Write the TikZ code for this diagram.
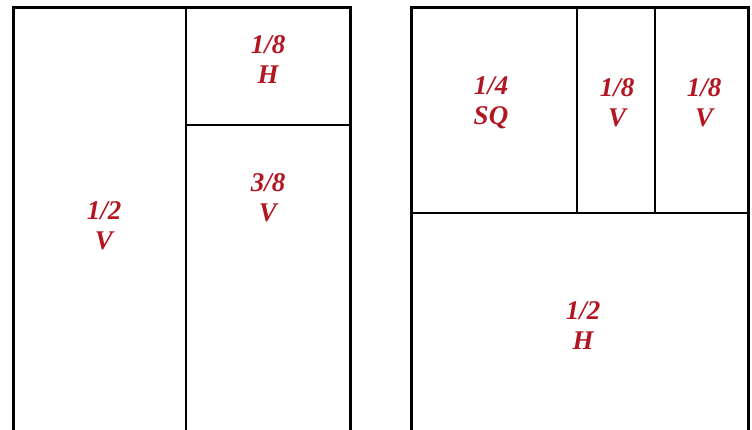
\documentclass[tikz,border=0pt]{standalone}
\usepackage{fontspec}
\setmainfont{Liberation Serif}
\definecolor{lblred}{RGB}{178,22,34}
\begin{document}
\begin{tikzpicture}[x=1pt,y=-1pt,
  outer/.style={draw=black,line width=3pt},
  inner/.style={draw=black,line width=2pt},
  lbl/.style={text=lblred,font=\fontsize{27}{30}\selectfont\bfseries\itshape,align=center,inner sep=0pt}]
\useasboundingbox (0,0) rectangle (752,429);
\begin{scope}
\clip (0,0) rectangle (752,429);
% left panel
\draw[inner] (186,7) -- (186,445);
\draw[inner] (186,125) -- (350,125);
\draw[outer] (13.5,445) -- (13.5,7.5) -- (350,7.5) -- (350,445);
% right panel
\draw[inner] (411,213) -- (750,213);
\draw[inner] (577,7) -- (577,213);
\draw[inner] (655,7) -- (655,213);
\draw[outer] (411.5,445) -- (411.5,7.5) -- (748,7.5) -- (748,445);
\end{scope}
\node[lbl] (a) at (104,226) {1/2\\V};
\node[lbl] (b) at (268,60) {1/8\\H};
\node[lbl] (c) at (268,198) {3/8\\V};
\node[lbl] (d) at (491,103) {1/4\\SQ};
\node[lbl] (e) at (617,103) {1/8\\V};
\node[lbl] (f) at (704,103) {1/8\\V};
\node[lbl] (g) at (583,326) {1/2\\H};
\end{tikzpicture}
\end{document}
